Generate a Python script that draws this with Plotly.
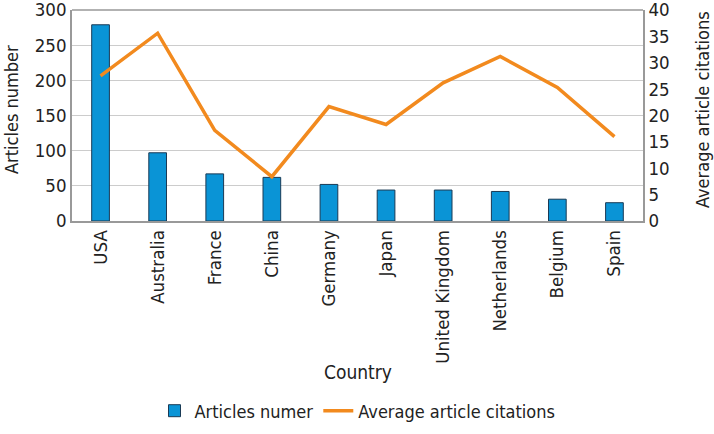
import plotly.graph_objects as go

countries = ["USA", "Australia", "France", "China", "Germany", "Japan",
             "United Kingdom", "Netherlands", "Belgium", "Spain"]
articles = [279, 97, 67, 62, 52, 44, 44, 42, 31, 26]
citations = [27.5, 35.6, 17.2, 8.4, 21.7, 18.3, 26.2, 31.2, 25.3, 16.0]
left_ticks = [0, 50, 100, 150, 200, 250, 300]
right_ticks = [0, 5, 10, 15, 20, 25, 30, 35, 40]

FONT = "DejaVu Sans Condensed, sans-serif"

L, R, T, B = 72, 71, 10, 213
PW, PH = 714 - L - R, 434 - T - B

fig = go.Figure()
fig.add_trace(go.Bar(
    x=countries, y=articles, name="Articles numer",
    marker=dict(color="#0a94d6", line=dict(color="#1a3a55", width=1)),
    yaxis="y",
))
fig.add_trace(go.Scatter(
    x=countries, y=citations, name="Average article citations",
    mode="lines", line=dict(color="#f28a1e", width=3.5),
    yaxis="y2",
))

fig.update_layout(
    width=714, height=434,
    margin=dict(l=L, r=R, t=T, b=B),
    paper_bgcolor="white", plot_bgcolor="white",
    font=dict(family=FONT, size=18, color="#222"),
    bargap=0.69,
    showlegend=True,
    legend=dict(orientation="h", x=0.5, xanchor="center",
                yref="container", y=1 - 411 / 434, yanchor="middle",
                font=dict(size=18), itemwidth=30, tracegroupgap=0),
    xaxis=dict(tickangle=-90, showline=True, linecolor="#999", linewidth=1.5,
               ticks="", tickfont=dict(size=18.5), automargin=False),
    yaxis=dict(range=[0, 300], tickvals=left_ticks, showgrid=True,
               gridcolor="#cccccc", gridwidth=1, showline=True,
               linecolor="#999", linewidth=1.5, ticks="",
               tickfont=dict(size=18.5), automargin=False, zeroline=False,
               ticklabeloverflow="allow"),
    yaxis2=dict(range=[0, 40], tickvals=right_ticks, overlaying="y",
                side="right", showgrid=False, showline=True,
                linecolor="#999", linewidth=1.5, ticks="",
                tickfont=dict(size=18.5), automargin=False, zeroline=False,
                ticklabeloverflow="allow"),
    annotations=[
        dict(text="Articles number", xref="paper", yref="paper",
             x=(11 - L) / PW, y=(434 - B - 110) / PH, xanchor="center",
             yanchor="middle", textangle=-90, showarrow=False,
             font=dict(size=18)),
        dict(text="Average article citations", xref="paper", yref="paper",
             x=(702 - L) / PW, y=(434 - B - 110) / PH, xanchor="center",
             yanchor="middle", textangle=-90, showarrow=False,
             font=dict(size=18)),
        dict(text="Country", xref="paper", yref="paper",
             x=0.5, y=-(372 - (434 - B)) / PH, xanchor="center",
             yanchor="middle", showarrow=False, font=dict(size=19)),
    ],
    shapes=[dict(type="line", xref="paper", yref="paper", x0=0, x1=1,
                 y0=1, y1=1, line=dict(color="#999", width=1.5))],
)

fig.write_html("out.html", config={"displayModeBar": False},
               post_script="document.body.style.margin='0';")
